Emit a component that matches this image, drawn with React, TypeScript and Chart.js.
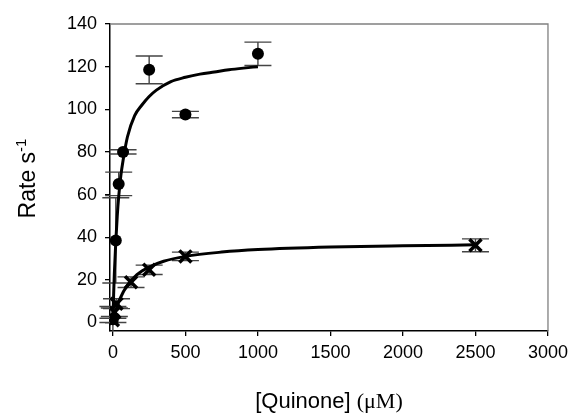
import React, { useEffect, useRef } from "react";
import { Chart, registerables } from "chart.js";

Chart.register(...registerables);

// Filled circles series
const circleX = [0, 20, 40, 70, 250, 500, 1000];
const circleY = [1.5, 38.5, 65, 80, 118.5, 97.5, 126];
const circleErr = [6, 20, 5.5, 1, 6.5, 1.5, 5.5];

// Cross series
const crossX = [0, 10, 25, 125, 250, 500, 2500];
const crossY = [1, 4.8, 8.8, 18.9, 24.7, 31, 36.2];
const crossErr = [1, 2, 2.3, 2.5, 2.2, 2, 3];

// Fitted curves
const circleFitX = [0, 5, 10, 20, 30, 40, 55, 70, 100, 150, 200, 250, 300, 400, 500, 600, 700, 800, 900, 1000];
const circleFitY = [0, 13, 23, 38, 50, 59, 69, 76, 87, 97, 102, 106, 109, 113, 115, 116.5, 117.5, 118.5, 119.3, 120];
const crossFitX = [0, 10, 25, 50, 100, 150, 200, 250, 350, 500, 750, 1000, 1500, 2000, 2500];
const crossFitY = [0, 3.0, 6.6, 11.3, 17.5, 21.4, 24.1, 26.0, 28.7, 31.0, 33.0, 34.2, 35.4, 36.0, 36.4];

const xTicks = [0, 500, 1000, 1500, 2000, 2500, 3000];
const yTicks = [0, 20, 40, 60, 80, 100, 120, 140];

const xTitleMain = "[Quinone] ";
const xTitleUnit = "(\u03bcM)";
const yTitleMain = "Rate s";
const yTitleSup = "-1";

const zip = (xs: number[], ys: number[]) => xs.map((x, i) => ({ x, y: ys[i] }));

const errorBars = {
  id: "errorBars",
  beforeDatasetsDraw(chart: any) {
    const ctx = chart.ctx;
    const xs = chart.scales.x;
    const ys = chart.scales.y;
    const a = chart.chartArea;
    ctx.save();
    ctx.beginPath();
    ctx.rect(a.left - 20, a.top, a.right - a.left + 40, a.bottom - a.top);
    ctx.clip();
    ctx.strokeStyle = "#444";
    ctx.lineWidth = 1.4;
    chart.data.datasets.forEach((ds: any) => {
      if (!ds.errors) return;
      ds.data.forEach((p: any, i: number) => {
        const e = ds.errors[i];
        const px = xs.getPixelForValue(p.x);
        const top = ys.getPixelForValue(p.y + e);
        const bot = ys.getPixelForValue(p.y - e);
        const hw = 13.5;
        ctx.beginPath();
        ctx.moveTo(px, top);
        ctx.lineTo(px, bot);
        ctx.moveTo(px - hw, top);
        ctx.lineTo(px + hw, top);
        ctx.moveTo(px - hw, bot);
        ctx.lineTo(px + hw, bot);
        ctx.stroke();
      });
    });
    ctx.restore();
  },
};

const frameAndTitles = {
  id: "frameAndTitles",
  afterDraw(chart: any) {
    const ctx = chart.ctx;
    const a = chart.chartArea;
    ctx.save();
    ctx.strokeStyle = "#808080";
    ctx.lineWidth = 1.3;
    ctx.beginPath();
    ctx.moveTo(a.left, a.top);
    ctx.lineTo(a.right, a.top);
    ctx.lineTo(a.right, a.bottom);
    ctx.stroke();

    // Y title
    ctx.fillStyle = "#000";
    ctx.save();
    ctx.translate(26, 178.5);
    ctx.rotate(-Math.PI / 2);
    ctx.font = '23px "Liberation Sans"';
    const w1 = ctx.measureText(yTitleMain).width;
    ctx.font = '15px "Liberation Sans"';
    const w2 = ctx.measureText(yTitleSup).width;
    const start = -(w1 + w2) / 2;
    ctx.textBaseline = "alphabetic";
    ctx.textAlign = "left";
    ctx.font = '23px "Liberation Sans"';
    ctx.fillText(yTitleMain, start, 9);
    ctx.font = '15px "Liberation Sans"';
    ctx.fillText(yTitleSup, start + w1, 0);
    ctx.restore();

    // X title
    ctx.font = '22px "Liberation Sans"';
    const m1 = ctx.measureText(xTitleMain).width;
    ctx.font = '22px "Liberation Serif"';
    const m2 = ctx.measureText(xTitleUnit).width;
    const cx = (a.left + a.right) / 2;
    const sx = cx - (m1 + m2) / 2;
    ctx.textAlign = "left";
    ctx.textBaseline = "alphabetic";
    ctx.font = '22px "Liberation Sans"';
    ctx.fillText(xTitleMain, sx, 408);
    ctx.font = '22px "Liberation Serif"';
    ctx.fillText(xTitleUnit, sx + m1, 408);
    ctx.restore();
  },
};

export default function App() {
  const ref = useRef<HTMLCanvasElement>(null);
  useEffect(() => {
    if (!ref.current) return;
    const tickFont = { family: "Liberation Sans", size: 18 };
    const chart = new Chart(ref.current, {
      type: "scatter",
      data: {
        datasets: [
          {
            label: "fit1",
            data: zip(circleFitX, circleFitY),
            showLine: true,
            borderColor: "#000",
            borderWidth: 3,
            pointRadius: 0,
            cubicInterpolationMode: "monotone",
          } as any,
          {
            label: "fit2",
            data: zip(crossFitX, crossFitY),
            showLine: true,
            borderColor: "#000",
            borderWidth: 3,
            pointRadius: 0,
            cubicInterpolationMode: "monotone",
          } as any,
          {
            label: "circles",
            data: zip(circleX, circleY),
            errors: circleErr,
            pointStyle: "circle",
            pointRadius: 6,
            backgroundColor: "#000",
            borderColor: "#000",
            borderWidth: 0,
          } as any,
          {
            label: "crosses",
            data: zip(crossX, crossY),
            errors: crossErr,
            pointStyle: "crossRot",
            pointRadius: 8.5,
            borderColor: "#000",
            borderWidth: 3.5,
          } as any,
        ],
      },
      options: {
        animation: false,
        responsive: false,
        layout: { padding: { left: 0, right: 25, top: 24, bottom: 0 } },
        plugins: { legend: { display: false }, tooltip: { enabled: false } },
        scales: {
          x: {
            type: "linear",
            min: -20,
            max: 3000,
            afterBuildTicks: (s: any) => {
              s.ticks = xTicks.map((v) => ({ value: v }));
            },
            afterFit: (s: any) => {
              s.height = 88;
            },
            ticks: { font: tickFont, color: "#000", padding: 6, callback: (v: any) => String(v), maxRotation: 0 },
            grid: { drawOnChartArea: false, drawTicks: true, tickLength: 5, color: "#000", lineWidth: 1.3 },
            border: { display: true, color: "#000", width: 1.5 },
          },
          y: {
            type: "linear",
            min: -4,
            max: 140,
            afterBuildTicks: (s: any) => {
              s.ticks = yTicks.map((v) => ({ value: v }));
            },
            afterFit: (s: any) => {
              s.width = 110;
            },
            ticks: { font: tickFont, color: "#000", padding: 8, callback: (v: any) => String(v) },
            grid: { drawOnChartArea: false, drawTicks: true, tickLength: 5, color: "#000", lineWidth: 1.3 },
            border: { display: true, color: "#000", width: 1.5 },
          },
        },
      },
      plugins: [errorBars, frameAndTitles],
    } as any);
    return () => chart.destroy();
  }, []);
  return (
    <div style={{ position: "absolute", left: 0, top: 0, width: 574, height: 419, background: "#fff" }}>
      <canvas ref={ref} width={574} height={419} style={{ display: "block" }} />
    </div>
  );
}
